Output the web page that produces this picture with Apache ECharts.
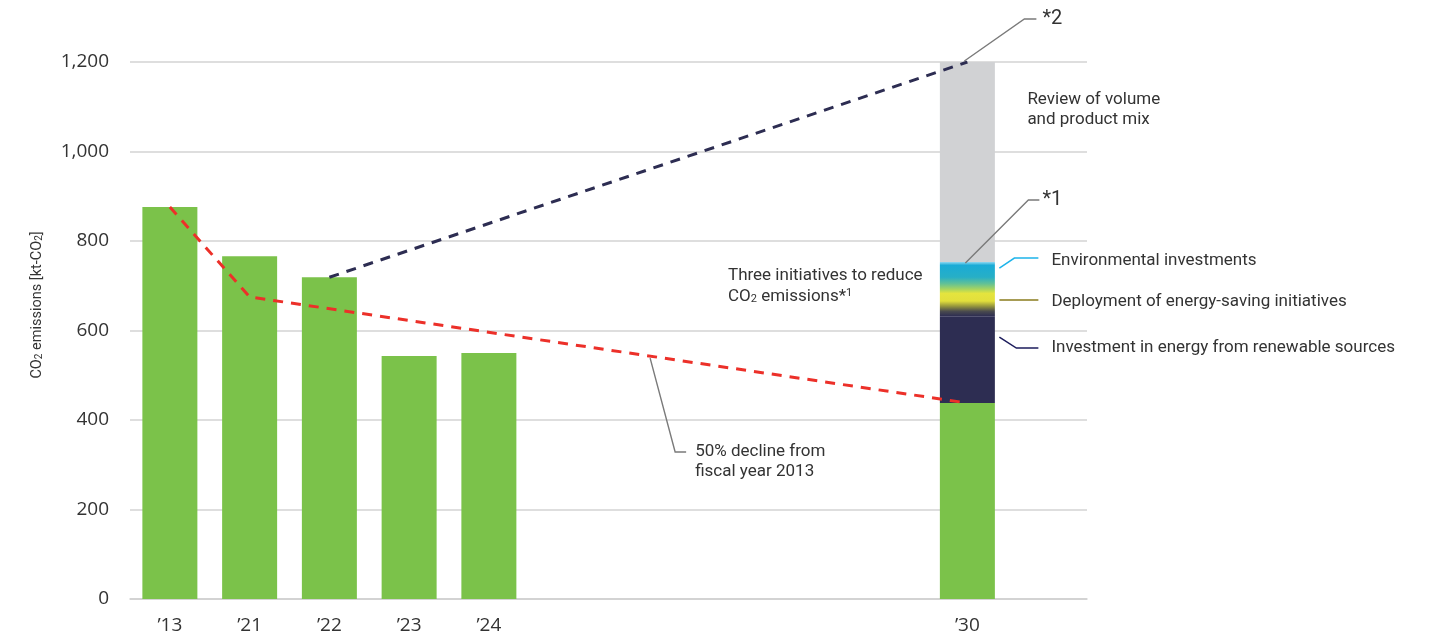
<!DOCTYPE html>
<html>
<head>
<meta charset="utf-8">
<script src="https://cdn.jsdelivr.net/npm/echarts@6/dist/echarts.min.js"></script>
<style>
  html, body { margin: 0; padding: 0; background: #fff; }
  #chart { width: 1434px; height: 636px; }
</style>
</head>
<body>
<div id="chart"></div>
<script>
// Fiscal years on the category axis (only some are labelled)
const years = ['’13', '’21', '’22', '’23', '’24', '’25', '’26', '’27', '’28', '’29', '’30', '’31'];
const labelledYears = ['’13', '’21', '’22', '’23', '’24', '’30'];
const yTicks = { min: 0, max: 1200, interval: 200 };

// CO2 emissions [kt-CO2]: results and the 2030 target (base of the 2030 stack)
const emissions = [876, 766, 719, 543, 550, null, null, null, null, null, 438, null];
// 2030 stack: reductions above the target
const renewables = [null, null, null, null, null, null, null, null, null, null, 194, null];
const initiatives = [null, null, null, null, null, null, null, null, null, null, 121, null];
const volumeMix = [null, null, null, null, null, null, null, null, null, null, 447, null];
// Reduction path (50% decline from FY2013) and projected emissions without action
const reductionPath = [876, 675, null, null, null, null, null, null, null, null, 438, null];
const projection = [null, null, 719, null, null, null, null, null, null, null, 1200, null];

const GREEN = '#7bc24a';
const NAVY = '#2d2d52';
const GREY = '#d1d2d4';
const RED = '#ec3029';
const TEXT = '#333333';
const LEADER = '#7a7a7a';
const AXIS_FONT = '"Open Sans", "Noto Sans", sans-serif';
const NOTE_FONT = 'Roboto, "Liberation Sans", sans-serif';

const chart = echarts.init(document.getElementById('chart'), null, { renderer: 'canvas' });

// Blended fill for the three initiatives segment (cyan -> green -> yellow -> navy)
const initiativeFill = new echarts.graphic.LinearGradient(0, 0, 0, 1, [
  { offset: 0.00, color: '#8fd8f2' },
  { offset: 0.06, color: '#1aabd6' },
  { offset: 0.28, color: '#27afc6' },
  { offset: 0.40, color: '#62c196' },
  { offset: 0.50, color: '#a6d460' },
  { offset: 0.58, color: '#e4e43e' },
  { offset: 0.72, color: '#e2df3c' },
  { offset: 0.81, color: '#9a9a3c' },
  { offset: 0.91, color: '#4a4b4e' },
  { offset: 1.00, color: NAVY }
]);

const barBase = { type: 'bar', stack: 'total', barWidth: 55, silent: true };

chart.setOption({
  animation: false,
  grid: { left: 130, right: 347, top: 62, bottom: 37 },
  xAxis: {
    type: 'category',
    data: years,
    boundaryGap: true,
    axisLine: { show: true, lineStyle: { color: '#cfcfcf', width: 1.5 } },
    axisTick: { show: false },
    axisLabel: {
      interval: 0,
      margin: 17,
      fontSize: 19,
      color: TEXT,
      fontFamily: AXIS_FONT,
      formatter: v => (labelledYears.includes(v) ? v : '')
    }
  },
  yAxis: {
    type: 'value',
    min: yTicks.min,
    max: yTicks.max,
    interval: yTicks.interval,
    axisLine: { show: false },
    axisTick: { show: false },
    axisLabel: { margin: 21, fontSize: 19, color: TEXT, fontFamily: AXIS_FONT },
    splitLine: { lineStyle: { color: '#d3d3d3', width: 1.5 } }
  },
  series: [
    Object.assign({}, barBase, { name: 'Emissions', data: emissions, itemStyle: { color: GREEN } }),
    Object.assign({}, barBase, { name: 'Renewables', data: renewables, itemStyle: { color: NAVY } }),
    Object.assign({}, barBase, { name: 'Initiatives', data: initiatives, itemStyle: { color: initiativeFill } }),
    Object.assign({}, barBase, { name: 'Volume and mix', data: volumeMix, itemStyle: { color: GREY } }),
    {
      type: 'line', name: 'Reduction path', data: reductionPath, connectNulls: true,
      symbol: 'none', silent: true, z: 5,
      lineStyle: { color: RED, width: 3, type: [10, 8] }
    },
    {
      type: 'line', name: 'Projection', data: projection, connectNulls: true,
      symbol: 'none', silent: true, z: 5,
      lineStyle: { color: NAVY, width: 3, type: [10, 8] }
    }
  ]
});

// Annotations anchored on data positions
const px = (i, v) => chart.convertToPixel({ xAxisIndex: 0, yAxisIndex: 0 }, [i, v]);
const i30 = years.indexOf('’30');
const topPt = px(i30, 1200);
const initTop = px(i30, emissions[i30] + renewables[i30] + initiatives[i30]);
const barRight = topPt[0] + 27;
const aRed = px(1, reductionPath[1]);
const bRed = px(i30, reductionPath[i30]);
const t = 0.558;
const onRed = [aRed[0] + (bRed[0] - aRed[0]) * t, aRed[1] + (bRed[1] - aRed[1]) * t];

const note = (x, y, text, extra) => ({
  type: 'text', x: x, y: y, silent: true, z: 100,
  style: Object.assign({
    text: text, fill: TEXT, font: '17px ' + NOTE_FONT,
    verticalAlign: 'middle', lineHeight: 20
  }, extra || {})
});
const leader = (pts, color, w) => ({
  type: 'polyline', silent: true, z: 100,
  shape: { points: pts },
  style: { stroke: color || LEADER, lineWidth: w || 1.4, fill: null }
});

const y2 = topPt[1] - 43;
const y1 = initTop[1] - 62;
const envY = initTop[1] - 4;
const depY = initTop[1] + 38;
const renY = initTop[1] + 86;

chart.setOption({
  graphic: [
    // Y axis title
    {
      type: 'text', x: 37, y: 305, rotation: Math.PI / 2, silent: true, z: 100,
      style: {
        text: 'CO{s|2} emissions [kt-CO{s|2}]', fill: TEXT,
        font: '14.5px ' + NOTE_FONT, align: 'center', verticalAlign: 'middle',
        rich: { s: { fontSize: 10, fill: TEXT, padding: [5, 0, 0, 0], fontFamily: NOTE_FONT } }
      }
    },
    // *2 callout
    leader([[topPt[0] - 3, topPt[1] - 1], [topPt[0] + 57, y2], [topPt[0] + 69, y2]]),
    note(topPt[0] + 75, y2, '*2', { font: '20px ' + NOTE_FONT }),
    note(barRight + 33, 110, 'Review of volume\nand product mix'),
    // *1 callout
    leader([[initTop[0] - 2, initTop[1] + 1], [initTop[0] + 61, y1], [initTop[0] + 72, y1]]),
    note(initTop[0] + 75, y1, '*1', { font: '20px ' + NOTE_FONT }),
    // Key for the three initiatives
    leader([[barRight + 5, envY + 10], [barRight + 20, envY], [barRight + 44, envY]], '#1eb4ea', 1.5),
    note(barRight + 57, envY + 3, 'Environmental investments'),
    leader([[barRight + 5, depY], [barRight + 44, depY]], '#8a7b1c', 1.5),
    note(barRight + 57, depY + 2, 'Deployment of energy-saving initiatives'),
    leader([[barRight + 5, renY - 11], [barRight + 22, renY], [barRight + 44, renY]], '#1c1c5c', 1.5),
    note(barRight + 57, renY, 'Investment in energy from renewable sources'),
    // Left-hand labels
    {
      type: 'text', x: 728, y: 286, silent: true, z: 100,
      style: {
        text: 'Three initiatives to reduce\nCO{s|2} emissions*{p|1}', fill: TEXT,
        font: '17px ' + NOTE_FONT, verticalAlign: 'middle', lineHeight: 21,
        rich: {
          s: { fontSize: 11, fill: TEXT, padding: [6, 0, 0, 0], fontFamily: NOTE_FONT },
          p: { fontSize: 11, fill: TEXT, padding: [0, 0, 6, 0], fontFamily: NOTE_FONT }
        }
      }
    },
    leader([[onRed[0], onRed[1] + 2], [onRed[0] + 25, 452], [onRed[0] + 36, 452]]),
    note(onRed[0] + 45, 462, '50% decline from\nfiscal year 2013')
  ]
});
</script>
</body>
</html>
